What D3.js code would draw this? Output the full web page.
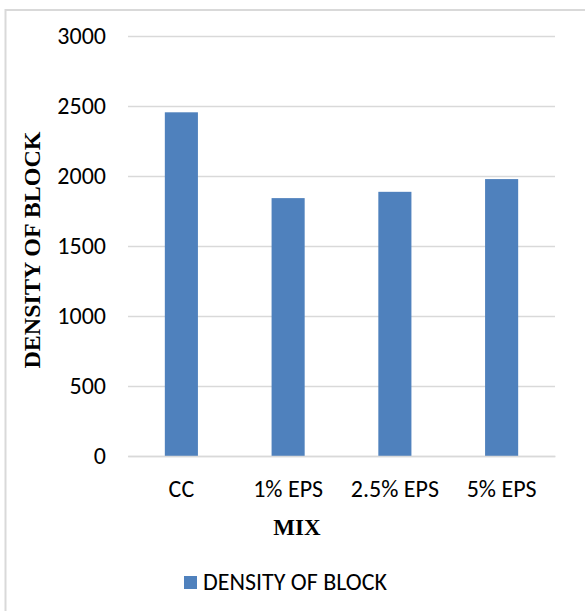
<!DOCTYPE html>
<html>
<head>
<meta charset="utf-8">
<script src="https://cdn.jsdelivr.net/npm/d3@7"></script>
<style>
  html, body { margin: 0; padding: 0; background: #fff; }
  svg { display: block; }
</style>
</head>
<body>
<svg id="chart" width="585" height="611"></svg>
<script>
// Block density for each mix
const categories = ["CC", "1% EPS", "2.5% EPS", "5% EPS"];
const densityValues = [2455, 1842, 1887, 1978];
const yTicks = [0, 500, 1000, 1500, 2000, 2500, 3000];
const seriesName = "DENSITY OF BLOCK";
const xTitle = "MIX";
const yTitle = "DENSITY OF BLOCK";

const sansFont = "Carlito, Calibri, Lato, 'Liberation Sans', sans-serif";
const serifFont = "'Liberation Serif', 'Times New Roman', serif";
const barColor = "#4f81bd";
const gridColor = "#d9d9d9";

const svg = d3.select("#chart");

// chart area frame
svg.append("rect")
  .attr("x", 5.5).attr("y", 10)
  .attr("width", 620).attr("height", 640)
  .attr("fill", "#fff")
  .attr("stroke", gridColor)
  .attr("stroke-width", 2);

const plot = { left: 128, right: 555, top: 36, bottom: 456 };

const x = d3.scaleBand()
  .domain(categories)
  .range([plot.left, plot.right])
  .paddingInner(0.69)
  .paddingOuter(0.345);

const y = d3.scaleLinear()
  .domain([0, 3000])
  .range([plot.bottom, plot.top]);

// horizontal gridlines + y labels
const yAxis = d3.axisLeft(y)
  .tickValues(yTicks)
  .tickSize(-(plot.right - plot.left))
  .tickPadding(22)
  .tickFormat(d3.format("d"));

const gy = svg.append("g")
  .attr("transform", `translate(${plot.left},0)`)
  .call(yAxis);
gy.select(".domain").remove();
gy.selectAll(".tick line")
  .attr("stroke", gridColor)
  .attr("stroke-width", 1.5);
gy.selectAll(".tick text")
  .attr("font-family", sansFont)
  .attr("font-size", 24)
  .attr("fill", "#000");

// bars
svg.append("g")
  .selectAll("rect")
  .data(categories.map((c, i) => ({ c, v: densityValues[i] })))
  .join("rect")
  .attr("x", d => x(d.c))
  .attr("width", x.bandwidth())
  .attr("y", d => y(d.v))
  .attr("height", d => y(0) - y(d.v))
  .attr("fill", barColor);

// category axis
const xAxis = d3.axisBottom(x).tickSize(0).tickPadding(24);
const gx = svg.append("g")
  .attr("transform", `translate(0,${plot.bottom})`)
  .call(xAxis);
gx.select(".domain")
  .attr("stroke", gridColor)
  .attr("stroke-width", 1.5);
gx.selectAll(".tick text")
  .attr("font-family", sansFont)
  .attr("font-size", 24)
  .attr("fill", "#000");

// axis titles
svg.append("text")
  .attr("x", 297)
  .attr("y", 535)
  .attr("text-anchor", "middle")
  .attr("font-family", serifFont)
  .attr("font-weight", "bold")
  .attr("font-size", 23)
  .text(xTitle);

svg.append("text")
  .attr("transform", `translate(40,${250}) rotate(-90)`)
  .attr("text-anchor", "middle")
  .attr("font-family", serifFont)
  .attr("font-weight", "bold")
  .attr("font-size", 24)
  .text(yTitle);

// legend
const legend = svg.append("g").attr("transform", "translate(184,576)");
legend.append("rect")
  .attr("width", 13).attr("height", 13)
  .attr("fill", barColor);
legend.append("text")
  .attr("x", 19).attr("y", 14)
  .attr("font-family", sansFont)
  .attr("font-size", 24)
  .attr("fill", "#000")
  .text(seriesName);
</script>
</body>
</html>
